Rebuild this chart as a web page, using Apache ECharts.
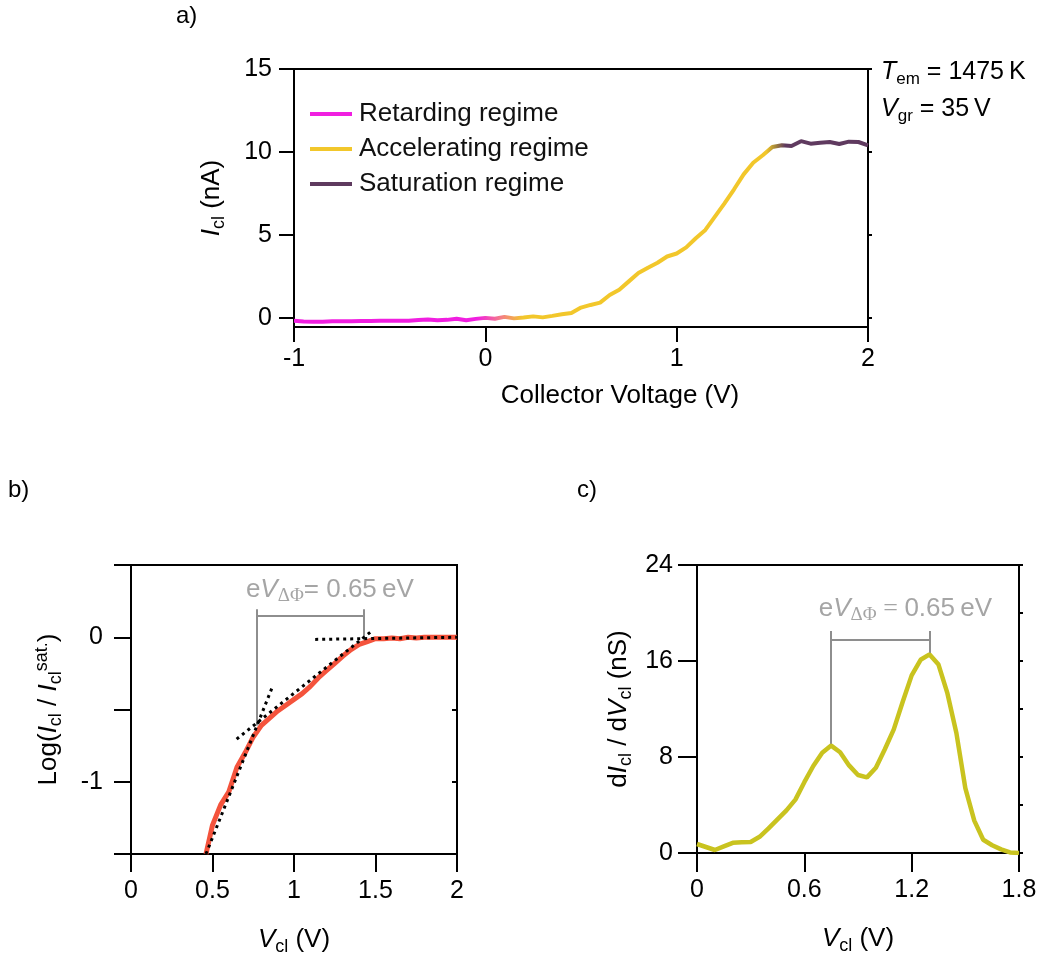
<!DOCTYPE html>
<html>
<head>
<meta charset="utf-8">
<script src="https://cdn.jsdelivr.net/npm/echarts@6/dist/echarts.min.js"></script>
<style>
html,body{margin:0;padding:0;background:#fff;}
#chart{width:1051px;height:957px;}
</style>
</head>
<body>
<div id="chart"></div>
<script>
// ---------------- DATA ----------------
// Panel a: collector current vs collector voltage
const aVoltage = [-1.00,-0.95,-0.90,-0.85,-0.80,-0.75,-0.70,-0.65,-0.60,-0.55,-0.50,-0.45,-0.40,-0.35,-0.30,-0.25,-0.20,-0.15,-0.10,-0.05,
  0.00,0.05,0.10,0.15,0.20,0.25,0.30,0.35,0.40,0.45,0.50,0.55,0.60,0.65,0.70,0.75,0.80,0.85,0.90,0.95,
  1.00,1.05,1.10,1.15,1.20,1.25,1.30,1.35,1.40,1.45,1.50,1.55,1.60,1.65,1.70,1.75,1.80,1.85,1.90,1.95,2.00];
const aCurrent = [-0.18,-0.22,-0.24,-0.23,-0.20,-0.20,-0.20,-0.19,-0.19,-0.18,-0.18,-0.18,-0.17,-0.13,-0.10,-0.14,-0.12,-0.05,-0.14,-0.06,
  0.00,-0.05,0.06,-0.03,0.02,0.09,0.03,0.12,0.22,0.30,0.62,0.78,0.92,1.38,1.70,2.20,2.70,3.02,3.32,3.70,
  3.88,4.25,4.80,5.30,6.10,6.90,7.75,8.65,9.35,9.80,10.30,10.40,10.36,10.65,10.50,10.55,10.60,10.48,10.62,10.60,10.40];
const aLegend = ['Retarding regime', 'Accelerating regime', 'Saturation regime'];
const aXTicks = [-1, 0, 1, 2];
const aYTicks = [0, 5, 10, 15];

// Panel b: log of normalised current
const bVoltage = [0.46,0.50,0.55,0.60,0.65,0.70,0.75,0.80,0.85,0.90,0.95,1.00,1.05,1.10,1.15,1.20,1.25,1.30,1.35,1.40,1.45,1.50,
  1.55,1.60,1.65,1.70,1.75,1.80,1.85,1.90,1.95,2.00];
const bLog = [-1.50,-1.30,-1.16,-1.07,-0.90,-0.80,-0.69,-0.61,-0.56,-0.51,-0.47,-0.43,-0.39,-0.34,-0.28,-0.23,-0.18,-0.13,-0.085,-0.05,-0.03,-0.01,
  -0.01,-0.005,-0.01,0.0,-0.005,0.0,0.0,0.0,0.0,0.0];
// straight-line fits (start/end points)
const bFitSteep = [[0.46,-1.50],[0.865,-0.35]];
const bFitMiddle = [[0.648,-0.705],[1.477,0.043]];
const bFitFlat = [[1.13,-0.015],[2.0,0.0]];
// bracket for eV_ΔΦ
const bBracketLeft = [[0.77,-0.61],[0.77,0.193]];
const bBracketTop = [[0.77,0.152],[1.425,0.152]];
const bBracketRight = [[1.425,0.193],[1.425,0.0]];
const bLabelAnchor = [1.22, 0.193];
const bYLabels = {'0':'0','-1':'-1'};

// Panel c: differential conductance
const cVoltage = [0.00,0.05,0.10,0.15,0.20,0.25,0.30,0.35,0.40,0.45,0.50,0.55,0.60,0.65,0.70,0.75,0.80,0.85,0.90,0.95,
  1.00,1.05,1.10,1.15,1.20,1.25,1.30,1.35,1.40,1.45,1.50,1.55,1.60,1.65,1.70,1.75,1.80];
const cConductance = [0.75,0.50,0.25,0.55,0.85,0.90,0.92,1.35,2.05,2.80,3.55,4.45,5.90,7.25,8.35,8.95,8.40,7.30,6.50,6.30,
  7.10,8.65,10.30,12.60,14.80,16.10,16.55,15.70,13.30,10.00,5.40,2.70,1.10,0.65,0.30,0.05,0.00];
const cBracketLeft = [[0.75,8.95],[0.75,18.5]];
const cBracketTop = [[0.75,17.75],[1.30,17.75]];
const cBracketRight = [[1.30,18.5],[1.30,16.6]];
const cLabelAnchor = [1.165, 18.5];

// ---------------- STYLE ----------------
const FONT = 'Liberation Sans, Arial, Helvetica, sans-serif';
const SERIF = 'Liberation Serif, DejaVu Serif, serif';
const TICK = 25, NAME = 26;
const GRAY = '#8e8e8e';
const C_MAG = '#f01fe0', C_YEL = '#f2c72b', C_PUR = '#5f3a5f';
const C_RED = '#f4533c', C_OLV = '#c9c31f';

function rich(S, color) {
  const sub = Math.round(S * 0.68);
  return {
    n: {fontSize: S, fontFamily: FONT, color: color, lineHeight: S + 6},
    i: {fontSize: S, fontFamily: FONT, color: color, fontStyle: 'italic', lineHeight: S + 6},
    s: {fontSize: sub, fontFamily: FONT, color: color, lineHeight: sub, verticalAlign: 'bottom'},
    p: {fontSize: sub, fontFamily: FONT, color: color, lineHeight: sub, verticalAlign: 'top'},
    g: {fontSize: sub + 1, fontFamily: SERIF, color: color, lineHeight: sub, verticalAlign: 'bottom'},
    m: {fontSize: S, fontFamily: SERIF, color: color, lineHeight: S + 6}
  };
}
const zip = (xs, ys) => xs.map((x, i) => [x, ys[i]]);

const axisLine = {show: true, onZero: false, lineStyle: {color: '#000', width: 2}};
const labelStyle = {fontSize: TICK, fontFamily: FONT, color: '#000'};

function mainX(gridIndex, min, max, interval, tickLen, margin, name, nameGap, custom, namePad) {
  const ax = {
    type: 'value', gridIndex, min, max, interval, position: 'bottom',
    axisLine, splitLine: {show: false},
    axisTick: {show: true, inside: false, length: tickLen, lineStyle: {color: '#000', width: 2}},
    axisLabel: Object.assign({margin}, labelStyle),
    name, nameLocation: 'middle', nameGap,
    nameTextStyle: {rich: rich(NAME, '#000'), fontSize: NAME, fontFamily: FONT, color: '#000', padding: namePad || 0}
  };
  if (custom) { ax.axisTick.customValues = custom; ax.axisLabel.customValues = custom; }
  return ax;
}
function mainY(gridIndex, min, max, interval, tickLen, margin, name, nameGap, custom, fmt) {
  const ax = {
    type: 'value', gridIndex, min, max, interval, position: 'left',
    axisLine, splitLine: {show: false},
    axisTick: {show: true, inside: false, length: tickLen, lineStyle: {color: '#000', width: 2}},
    axisLabel: Object.assign({margin}, labelStyle),
    name, nameLocation: 'middle', nameGap, nameRotate: 90,
    nameTextStyle: {rich: rich(NAME, '#000'), fontSize: NAME, fontFamily: FONT, color: '#000'}
  };
  if (custom) { ax.axisTick.customValues = custom; ax.axisLabel.customValues = custom; }
  if (fmt) ax.axisLabel.formatter = fmt;
  return ax;
}
function frameX(gridIndex, min, max) {
  return {type: 'value', gridIndex, min, max, position: 'top', axisLine, axisTick: {show: false},
    axisLabel: {show: false}, splitLine: {show: false}};
}
function frameY(gridIndex, min, max, interval, inside, len, custom) {
  const ax = {type: 'value', gridIndex, min, max, interval, position: 'right', axisLine,
    axisTick: {show: true, inside, length: len, lineStyle: {color: '#000', width: 2}},
    axisLabel: {show: false}, splitLine: {show: false}};
  if (custom) ax.axisTick.customValues = custom;
  return ax;
}

const gradA = new echarts.graphic.LinearGradient(0, 0, 1, 0, [
  {offset: 0, color: C_MAG}, {offset: 0.32, color: C_MAG},
  {offset: 0.36, color: '#f47a8a'}, {offset: 0.40, color: C_YEL},
  {offset: 0.82, color: C_YEL}, {offset: 0.835, color: '#a88a3a'},
  {offset: 0.853, color: C_PUR}, {offset: 1, color: C_PUR}
]);

function segs(list) { return list.map(c => ({coords: c})); }

const option = {
  animation: false,
  backgroundColor: '#fff',
  grid: [
    {left: 294, top: 69, width: 574, height: 258, show: true, borderColor: '#000', borderWidth: 2, backgroundColor: 'transparent'},
    {left: 131, top: 565, width: 326, height: 289, show: true, borderColor: '#000', borderWidth: 2, backgroundColor: 'transparent'},
    {left: 697, top: 565, width: 322, height: 288, show: true, borderColor: '#000', borderWidth: 2, backgroundColor: 'transparent'}
  ],
  xAxis: [
    mainX(0, -1, 2, 1, 15, 20, 'Collector Voltage (V)', 56, aXTicks, [0, 0, 0, 78]),
    frameX(0, -1, 2),
    mainX(1, 0, 2, 0.5, 18, 25, '{i|V}{s|cl}{n| (V)}', 70),
    frameX(1, 0, 2),
    mainX(2, 0, 1.8, 0.6, 19, 25, '{i|V}{s|cl}{n| (V)}', 70),
    frameX(2, 0, 1.8)
  ],
  yAxis: [
    mainY(0, -0.55, 15, 5, 15, 22, '{i|I}{s|cl}{n| (nA)}', 66, aYTicks),
    frameY(0, -0.55, 15, 5, false, 4, aYTicks),
    mainY(1, -1.5, 0.5, 0.5, 17, 28, '{n|Log(}{i|I}{s|cl}{n| / }{i|I}{s|cl}{p|sat.}{n|)}', 66, null,
      v => (bYLabels[String(v)] !== undefined ? bYLabels[String(v)] : '')),
    frameY(1, -1.5, 0.5, 0.5, true, 5),
    mainY(2, 0, 24, 8, 19, 24, '{n|d}{i|I}{s|cl}{n| / d}{i|V}{s|cl}{n| (nS)}', 62),
    frameY(2, 0, 24, 4, false, 4)
  ],
  legend: {
    left: 305, top: 96, orient: 'vertical', icon: 'rect', itemWidth: 42, itemHeight: 4, itemGap: 9,
    textStyle: {fontSize: NAME, fontFamily: FONT, color: '#111', lineHeight: 26, padding: [0, 0, 0, 2]},
    data: aLegend, selectedMode: false
  },
  graphic: [
    {type: 'text', left: 176, top: 4, style: {text: 'a)', font: '24px ' + FONT, fill: '#000'}},
    {type: 'text', left: 8, top: 478, style: {text: 'b)', font: '24px ' + FONT, fill: '#000'}},
    {type: 'text', left: 577, top: 478, style: {text: 'c)', font: '24px ' + FONT, fill: '#000'}},
    {type: 'text', left: 881, top: 60, style: {text: '{i|T}{s|em}{n| = 1475\u2009K}', rich: rich(25, '#000')}},
    {type: 'text', left: 881, top: 97, style: {text: '{i|V}{s|gr}{n| = 35\u2009V}', rich: rich(25, '#000')}}
  ],
  series: [
    {type: 'line', xAxisIndex: 0, yAxisIndex: 0, data: zip(aVoltage, aCurrent), showSymbol: false,
      lineStyle: {width: 4, color: gradA}, z: 5, silent: true},
    {type: 'line', name: aLegend[0], xAxisIndex: 0, yAxisIndex: 0, data: [], color: C_MAG},
    {type: 'line', name: aLegend[1], xAxisIndex: 0, yAxisIndex: 0, data: [], color: C_YEL},
    {type: 'line', name: aLegend[2], xAxisIndex: 0, yAxisIndex: 0, data: [], color: C_PUR},

    {type: 'line', xAxisIndex: 2, yAxisIndex: 2, data: zip(bVoltage, bLog), showSymbol: false,
      lineStyle: {width: 5, color: C_RED}, z: 4, silent: true},
    {type: 'lines', coordinateSystem: 'cartesian2d', xAxisIndex: 2, yAxisIndex: 2, silent: true, z: 6,
      lineStyle: {color: '#000', width: 3, type: [3, 4], opacity: 1},
      data: segs([bFitSteep, bFitMiddle, bFitFlat])},
    {type: 'lines', coordinateSystem: 'cartesian2d', xAxisIndex: 2, yAxisIndex: 2, silent: true, z: 3,
      lineStyle: {color: GRAY, width: 2, opacity: 1},
      data: segs([bBracketLeft, bBracketTop, bBracketRight])},
    {type: 'scatter', xAxisIndex: 2, yAxisIndex: 2, symbolSize: 0, silent: true, data: [bLabelAnchor],
      label: {show: true, position: 'top', distance: 4,
        formatter: '{n|e}{i|V}{g|\u0394\u03A6}{n|= 0.65\u2009eV}', rich: rich(26, GRAY)}},

    {type: 'line', xAxisIndex: 4, yAxisIndex: 4, data: zip(cVoltage, cConductance), showSymbol: false,
      lineStyle: {width: 4.5, color: C_OLV}, z: 4, silent: true},
    {type: 'lines', coordinateSystem: 'cartesian2d', xAxisIndex: 4, yAxisIndex: 4, silent: true, z: 3,
      lineStyle: {color: GRAY, width: 2, opacity: 1},
      data: segs([cBracketLeft, cBracketTop, cBracketRight])},
    {type: 'scatter', xAxisIndex: 4, yAxisIndex: 4, symbolSize: 0, silent: true, data: [cLabelAnchor],
      label: {show: true, position: 'top', distance: 6,
        formatter: '{n|e}{i|V}{g|\u0394\u03A6}{m| = }{n|0.65\u2009eV}', rich: rich(26, GRAY)}}
  ]
};

const chart = echarts.init(document.getElementById('chart'), null, {renderer: 'canvas'});
chart.setOption(option);
</script>
</body>
</html>
